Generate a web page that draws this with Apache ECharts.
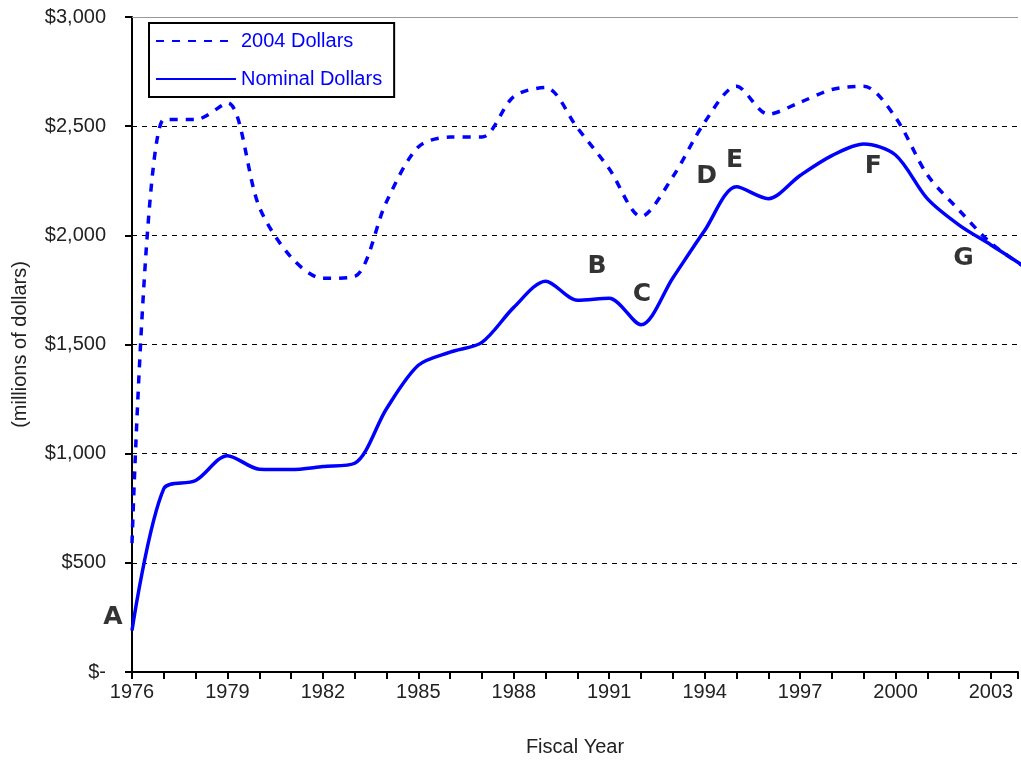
<!DOCTYPE html>
<html>
<head>
<meta charset="utf-8">
<script src="https://cdn.jsdelivr.net/npm/echarts@6/dist/echarts.min.js"></script>
<style>
  html, body { margin: 0; padding: 0; background: #fff; }
  #chart { width: 1021px; height: 762px; }
</style>
</head>
<body>
<div id="chart"></div>
<script>
// 数据层
var years = [1976, 1977, 1978, 1979, 1980, 1981, 1982, 1983, 1984, 1985, 1986, 1987, 1988, 1989, 1990,
  1991, 1992, 1993, 1994, 1995, 1996, 1997, 1998, 1999, 2000, 2001, 2002, 2003, 2004];
var real2004 = [590, 2530, 2530, 2607, 2130, 1900, 1803, 1812, 2154, 2405, 2450, 2450, 2636, 2677, 2492,
  2305, 2086, 2268, 2518, 2683, 2555, 2609, 2668, 2683, 2540, 2277, 2115, 1964, 1860];
var nominal = [190, 840, 877, 991, 929, 927, 941, 956, 1206, 1405, 1465, 1510, 1670, 1790, 1703,
  1712, 1590, 1805, 2022, 2222, 2168, 2274, 2365, 2418, 2368, 2168, 2047, 1956, 1862];
var yTicks = [0, 500, 1000, 1500, 2000, 2500, 3000];
// 标注字母 [年份, 数值]
var noteLetters = ['A', 'B', 'C', 'D', 'E', 'F', 'G'];
var notePos = [[1975.4, 250], [1990.62, 1855], [1992.03, 1730], [1994.06, 2270],
  [1994.94, 2345], [1999.3, 2315], [2002.14, 1895]];

var blue = '#0000ff';
var font = 'Arial, "Liberation Sans", sans-serif';

var myChart = echarts.init(document.getElementById('chart'));

function money (v) {
  if (v === 0) return '$-';
  return '$' + v.toLocaleString('en-US');
}

var option = {
  animation: false,
  grid: {
    left: 132,
    top: 17,
    right: 0,
    height: 660
  },
  legend: {
    orient: 'vertical',
    left: 149,
    top: 23,
    padding: [8, 12, 8, 6],
    itemGap: 18,
    itemWidth: 80,
    itemHeight: 20,
    borderColor: '#000',
    borderWidth: 2,
    itemStyle: { opacity: 0 },
    textStyle: { color: blue, fontSize: 20, fontFamily: font },
    data: ['2004 Dollars', 'Nominal Dollars']
  },
  xAxis: {
    type: 'value',
    min: 1976,
    max: 2003.85,
    interval: 1,
    name: 'Fiscal Year',
    nameLocation: 'middle',
    nameGap: 65,
    nameTextStyle: { color: '#222', fontSize: 20, fontFamily: font },
    axisLine: { lineStyle: { color: '#000', width: 2 } },
    axisTick: { length: 7, lineStyle: { color: '#000', width: 2 } },
    axisLabel: {
      color: '#222',
      fontSize: 20,
      fontFamily: font,
      margin: 10,
      formatter: function (v) {
        return (v - 1976) % 3 === 0 ? String(v) : '';
      }
    },
    splitLine: { show: false }
  },
  yAxis: {
    type: 'value',
    min: yTicks[0],
    max: yTicks[yTicks.length - 1],
    interval: 500,
    name: '(millions of dollars)',
    nameLocation: 'middle',
    nameGap: 102,
    nameTextStyle: { color: '#222', fontSize: 20, fontFamily: font },
    axisLine: { show: true, lineStyle: { color: '#000', width: 2 } },
    axisTick: { show: true, length: 7, lineStyle: { color: '#000', width: 2 } },
    axisLabel: {
      color: '#222',
      fontSize: 20,
      fontFamily: font,
      margin: 26,
      formatter: money
    },
    splitLine: {
      show: true,
      showMinLine: false,
      showMaxLine: false,
      lineStyle: { color: '#000', width: 1, type: [5, 5] }
    }
  },
  series: [
    {
      name: '2004 Dollars',
      type: 'line',
      smooth: 0.3,
      symbol: 'none',
      color: blue,
      lineStyle: { color: blue, width: 3.5, type: [8, 8] },
      data: years.map(function (y, i) { return [y, real2004[i]]; }),
      // 顶部灰色边框
      markLine: {
        silent: true,
        symbol: 'none',
        label: { show: false },
        lineStyle: { color: '#999', width: 1, type: 'solid' },
        data: [{ yAxis: yTicks[yTicks.length - 1] }]
      }
    },
    {
      name: 'Nominal Dollars',
      type: 'line',
      smooth: 0.3,
      symbol: 'none',
      color: blue,
      lineStyle: { color: blue, width: 3.5 },
      data: years.map(function (y, i) { return [y, nominal[i]]; })
    },
    {
      name: 'notes',
      type: 'scatter',
      clip: false,
      symbolSize: 1,
      itemStyle: { color: 'transparent' },
      silent: true,
      label: {
        show: true,
        position: 'inside',
        color: '#000',
        fontSize: 25,
        fontWeight: 'bold',
        fontFamily: '"DejaVu Sans", Verdana, sans-serif',
        formatter: function (p) { return noteLetters[p.dataIndex]; }
      },
      data: notePos
    }
  ]
};
myChart.setOption(option);
</script>
</body>
</html>
